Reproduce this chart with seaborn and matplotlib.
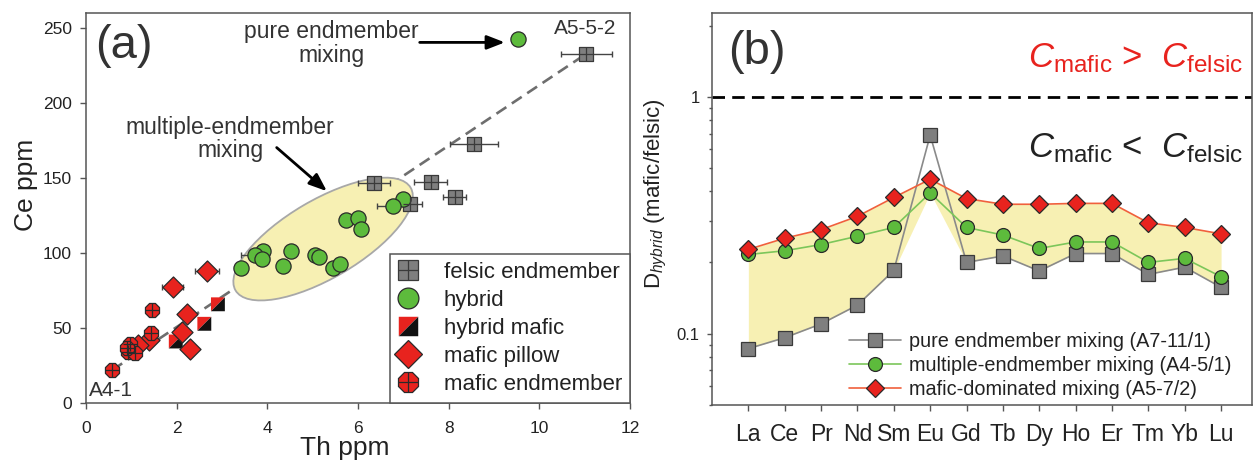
import numpy as np
import pandas as pd
import matplotlib
matplotlib.use("Agg")
import matplotlib.pyplot as plt
import seaborn as sns
from matplotlib.lines import Line2D
from matplotlib.patches import Ellipse
from matplotlib.transforms import ScaledTranslation
from matplotlib.legend_handler import HandlerTuple
from matplotlib.ticker import LogLocator, FixedLocator, NullFormatter

# ---------------- Panel (a) data: Th vs Ce (ppm) ----------------
felsic_th = [11.04, 8.55, 6.36, 7.60, 8.13, 7.15]
felsic_ce = [232.9, 172.9, 146.8, 147.1, 137.3, 132.9]
felsic_th_err = [0.57, 0.53, 0.35, 0.37, 0.26, 0.27]

hybrid_th = [9.53, 7.00, 6.78, 5.74, 6.01, 6.07, 3.90, 3.73, 3.88, 4.52, 4.35, 3.43, 5.05, 5.15, 5.44, 5.60]
hybrid_ce = [242.7, 136.0, 131.5, 122.0, 123.5, 116.0, 101.5, 98.8, 95.8, 101.5, 91.5, 90.2, 98.8, 97.5, 90.2, 92.5]
hybrid_th_err = [0, 0, 0.35, 0, 0, 0, 0, 0.30, 0, 0, 0.12, 0, 0, 0, 0.15, 0]

hybmafic_th = [2.91, 2.61, 1.98]
hybmafic_ce = [65.8, 52.8, 41.0]

pillow_th = [2.67, 1.91, 2.23, 2.12, 2.29, 1.39, 1.14]
pillow_ce = [88.3, 77.3, 59.5, 47.2, 36.1, 42.3, 38.6]
pillow_th_err = [0.26, 0.24, 0, 0, 0, 0, 0]

mend_th = [0.58, 1.45, 1.43, 0.97, 0.93, 1.08, 0.90]
mend_ce = [22.0, 62.0, 46.9, 39.3, 34.2, 33.6, 36.5]

# mixing line endpoints (A4-1 -> A5-5-2)
mix_th = [0.58, 11.04]
mix_ce = [22.0, 232.9]

# ---------------- Panel (b) data ----------------
elements = ["La", "Ce", "Pr", "Nd", "Sm", "Eu", "Gd", "Tb", "Dy", "Ho", "Er", "Tm", "Yb", "Lu"]
pure_mix = [0.0865, 0.0962, 0.110, 0.132, 0.185, 0.689, 0.200, 0.213, 0.184, 0.218, 0.218, 0.178, 0.191, 0.157]
multi_mix = [0.216, 0.224, 0.238, 0.258, 0.281, 0.393, 0.281, 0.261, 0.229, 0.244, 0.244, 0.200, 0.208, 0.174]
mafic_mix = [0.227, 0.253, 0.275, 0.313, 0.376, 0.449, 0.372, 0.352, 0.352, 0.355, 0.355, 0.294, 0.281, 0.264]
series_labels = ["pure endmember mixing (A7-11/1)",
                 "multiple-endmember mixing (A4-5/1)",
                 "mafic-dominated mixing (A5-7/2)"]

# ---------------- style ----------------
sns.set_theme(style="ticks")
plt.rcParams["font.family"] = ["Liberation Sans", "DejaVu Sans"]
plt.rcParams["mathtext.fontset"] = "custom"
plt.rcParams["mathtext.rm"] = "Liberation Sans"
plt.rcParams["mathtext.it"] = "Liberation Sans:italic"
plt.rcParams["mathtext.bf"] = "Liberation Sans:bold"
plt.rcParams["axes.edgecolor"] = "#555555"
plt.rcParams["axes.linewidth"] = 1.1
plt.rcParams["xtick.color"] = "#555555"
plt.rcParams["ytick.color"] = "#555555"
plt.rcParams["xtick.labelcolor"] = "#222222"
plt.rcParams["ytick.labelcolor"] = "#222222"

TXT = "#333333"
GRAY = "#7f7f7f"
GREEN = "#5dbb3c"
RED = "#e8231e"
YELLOW = "#f7f0b3"

fig = plt.figure(figsize=(12.57, 4.65), dpi=100)
ax1 = fig.add_axes([86 / 1257, 1 - 403 / 465, 544 / 1257, 390 / 465])
ax2 = fig.add_axes([712 / 1257, 1 - 405 / 465, 540 / 1257, 392 / 465])

# ================= Panel (a) =================
ax1.set_xlim(0, 12)
ax1.set_ylim(0, 260)
ax1.plot(mix_th, mix_ce, ls=(0, (4.5, 2.5)), color="#6e6e6e", lw=1.9, zorder=1)

ell_tr = fig.dpi_scale_trans + ScaledTranslation(5.23, 109.3, ax1.transData)
ax1.add_patch(Ellipse((0, 0), 2.03, 0.78, angle=30.4, transform=ell_tr,
                      facecolor=YELLOW, edgecolor="#a8a8a8", lw=1.3, zorder=2))

ebkw = dict(fmt="none", ecolor="#444444", elinewidth=1.0, capsize=2.5, capthick=1.0, zorder=3)
ax1.errorbar(felsic_th, felsic_ce, xerr=felsic_th_err, **ebkw)
ax1.errorbar(hybrid_th, hybrid_ce, xerr=hybrid_th_err, **ebkw)
ax1.errorbar(pillow_th, pillow_ce, xerr=pillow_th_err, **ebkw)

sk = dict(ax=ax1, legend=False, zorder=4)
sns.scatterplot(x=felsic_th, y=felsic_ce, marker="s", s=105, color=GRAY, edgecolor="#3a3a3a", linewidth=0.9, **sk)
sns.scatterplot(x=felsic_th, y=felsic_ce, marker="+", s=105, color="#3a3a3a", linewidth=0.9, ax=ax1, legend=False, zorder=5)
sns.scatterplot(x=hybrid_th, y=hybrid_ce, marker="o", s=120, color=GREEN, edgecolor="#2a2a2a", linewidth=0.9, **sk)
tri_red = [(-1, -1), (-1, 1), (1, 1), (-1, -1)]
tri_blk = [(-1, -1), (1, 1), (1, -1), (-1, -1)]
sns.scatterplot(x=hybmafic_th, y=hybmafic_ce, marker=tri_red, s=100, color=RED, edgecolor="none", linewidth=0, **sk)
sns.scatterplot(x=hybmafic_th, y=hybmafic_ce, marker=tri_blk, s=100, color="#111111", edgecolor="none", linewidth=0, **sk)
sns.scatterplot(x=pillow_th, y=pillow_ce, marker="D", s=115, color=RED, edgecolor="#2a2a2a", linewidth=0.9, **sk)
sns.scatterplot(x=mend_th, y=mend_ce, marker="8", s=120, color=RED, edgecolor="#2a2a2a", linewidth=0.9, **sk)
sns.scatterplot(x=mend_th, y=mend_ce, marker="+", s=110, color="#2a2a2a", linewidth=0.9, ax=ax1, legend=False, zorder=5)

ax1.set_xticks([0, 2, 4, 6, 8, 10, 12])
ax1.set_yticks([0, 50, 100, 150, 200, 250])
ax1.tick_params(axis="x", direction="out", length=4.3, width=1.0, labelsize=12.5, pad=9)
ax1.tick_params(axis="y", direction="out", length=4.3, width=1.0, labelsize=12.5, pad=6)
ax1.set_xlabel("Th ppm", fontsize=19, color="#222222")
ax1.set_ylabel("Ce ppm", fontsize=19, color="#222222")
ax1.xaxis.set_label_coords(0.476, -0.085)
ax1.yaxis.set_label_coords(-0.088, 0.56)

ax1.text(0.2, 238, "(a)", fontsize=34, color=TXT, va="center", ha="left")
ax1.text(5.42, 239.5, "pure endmember\nmixing", fontsize=16.5, color=TXT, ha="center", va="center", linespacing=1.05)
ax1.annotate("", xy=(9.3, 240.4), xytext=(7.3, 240.4),
             arrowprops=dict(arrowstyle="-|>,head_length=0.9,head_width=0.35", color="black", lw=2))
ax1.text(3.18, 176, "multiple-endmember\nmixing", fontsize=16.5, color=TXT, ha="center", va="center", linespacing=1.05)
ax1.annotate("", xy=(5.36, 140.0), xytext=(4.16, 171.5),
             arrowprops=dict(arrowstyle="-|>,head_length=0.9,head_width=0.35", color="black", lw=2))
ax1.text(11.0, 250, "A5-5-2", fontsize=15, color=TXT, ha="center", va="center")
ax1.text(0.06, 8.4, "A4-1", fontsize=15, color=TXT, ha="left", va="center")

h_felsic = (Line2D([], [], marker="s", ms=14, mfc=GRAY, mec="#3a3a3a", mew=0.9, ls=""),
            Line2D([], [], marker="+", ms=14, mec="#3a3a3a", mew=0.9, ls=""))
h_hybrid = Line2D([], [], marker="o", ms=15, mfc=GREEN, mec="#2a2a2a", mew=0.9, ls="")
h_hm = (Line2D([], [], marker=tri_red, ms=14, mfc=RED, mec="none", ls=""),
        Line2D([], [], marker=tri_blk, ms=14, mfc="#111111", mec="none", ls=""))
h_pillow = Line2D([], [], marker="D", ms=14, mfc=RED, mec="#2a2a2a", mew=0.9, ls="")
h_mend = (Line2D([], [], marker="8", ms=15, mfc=RED, mec="#2a2a2a", mew=0.9, ls=""),
          Line2D([], [], marker="+", ms=14, mec="#2a2a2a", mew=0.9, ls=""))
leg1 = ax1.legend([h_felsic, h_hybrid, h_hm, h_pillow, h_mend],
                  ["felsic endmember", "hybrid", "hybrid mafic", "mafic pillow", "mafic endmember"],
                  handler_map={tuple: HandlerTuple(ndivide=1, pad=0)},
                  loc="lower right", borderaxespad=0, fontsize=16, frameon=True, fancybox=False,
                  edgecolor="#555555", framealpha=1, labelspacing=0.32, handlelength=1.0,
                  handletextpad=1.1, borderpad=0.35, labelcolor="#222222")
leg1.get_frame().set_linewidth(1.1)

# ================= Panel (b) =================
x_idx = np.arange(len(elements))
df_b = pd.DataFrame({
    "idx": np.tile(x_idx, 3),
    "D": pure_mix + multi_mix + mafic_mix,
    "series": np.repeat(series_labels, len(elements)),
})

lower = np.minimum(pure_mix, multi_mix)
upper = np.maximum(mafic_mix, multi_mix)
ax2.fill_between(x_idx, lower, upper, color=YELLOW, lw=0, zorder=1)

styles = {
    series_labels[0]: dict(color="#8a8a8a", marker="s", ms=10, mfc=GRAY, mec="#3a3a3a"),
    series_labels[1]: dict(color="#7cc65a", marker="o", ms=10, mfc=GREEN, mec="#2a2a2a"),
    series_labels[2]: dict(color="#f0603c", marker="D", ms=9.5, mfc=RED, mec="#2a2a2a"),
}
for lab in series_labels:
    st = styles[lab]
    sub = df_b[df_b["series"] == lab]
    sns.lineplot(data=sub, x="idx", y="D", ax=ax2, color=st["color"], lw=1.2, marker=st["marker"],
                 markersize=st["ms"], markerfacecolor=st["mfc"], markeredgecolor=st["mec"],
                 markeredgewidth=0.9, label=lab, zorder=3, sort=False)

ax2.axhline(1.0, color="black", lw=2.0, ls=(0, (4.5, 2.6)), zorder=2)
ax2.set_yscale("log")
ax2.set_ylim(0.05, 2.26)
ax2.set_xlim(-1, 13.85)
ax2.set_xticks(x_idx)
ax2.set_xticklabels(elements)
ax2.yaxis.set_major_locator(FixedLocator([0.1, 1.0]))
ax2.set_yticklabels(["0.1", "1"])
ax2.yaxis.set_minor_locator(LogLocator(base=10, subs=np.arange(2, 10) * 1.0))
ax2.yaxis.set_minor_formatter(NullFormatter())
ax2.tick_params(axis="x", direction="out", length=4.3, width=1.0, labelsize=16.5, pad=9)
ax2.tick_params(axis="y", which="major", direction="out", length=3.8, width=1.0, labelsize=12, pad=5)
ax2.tick_params(axis="y", which="minor", direction="out", length=2.5, width=1.0)
ax2.set_xlabel("")
ax2.set_ylabel(r"D$_{hybrid}$ (mafic/felsic)", fontsize=16, color="#222222")
ax2.yaxis.set_label_coords(-0.08, 0.54)

ax2.text(0.03, 0.90, "(b)", transform=ax2.transAxes, fontsize=34, color=TXT, va="center", ha="left")
ax2.text(0.785, 0.885, r"$\mathit{C}_{\mathrm{mafic}}$ >  $\mathit{C}_{\mathrm{felsic}}$", transform=ax2.transAxes,
         fontsize=25, color="#e8231e", ha="center", va="center")
ax2.text(0.785, 0.655, r"$\mathit{C}_{\mathrm{mafic}}$ <  $\mathit{C}_{\mathrm{felsic}}$", transform=ax2.transAxes,
         fontsize=25, color="#222222", ha="center", va="center")

ax2.legend(loc="lower right", bbox_to_anchor=(0.976, -0.005), frameon=False, fontsize=14.3,
           labelspacing=0.26, handlelength=2.6, handletextpad=0.4, borderaxespad=0, labelcolor="#222222")

fig.savefig("out.png", dpi=100)
